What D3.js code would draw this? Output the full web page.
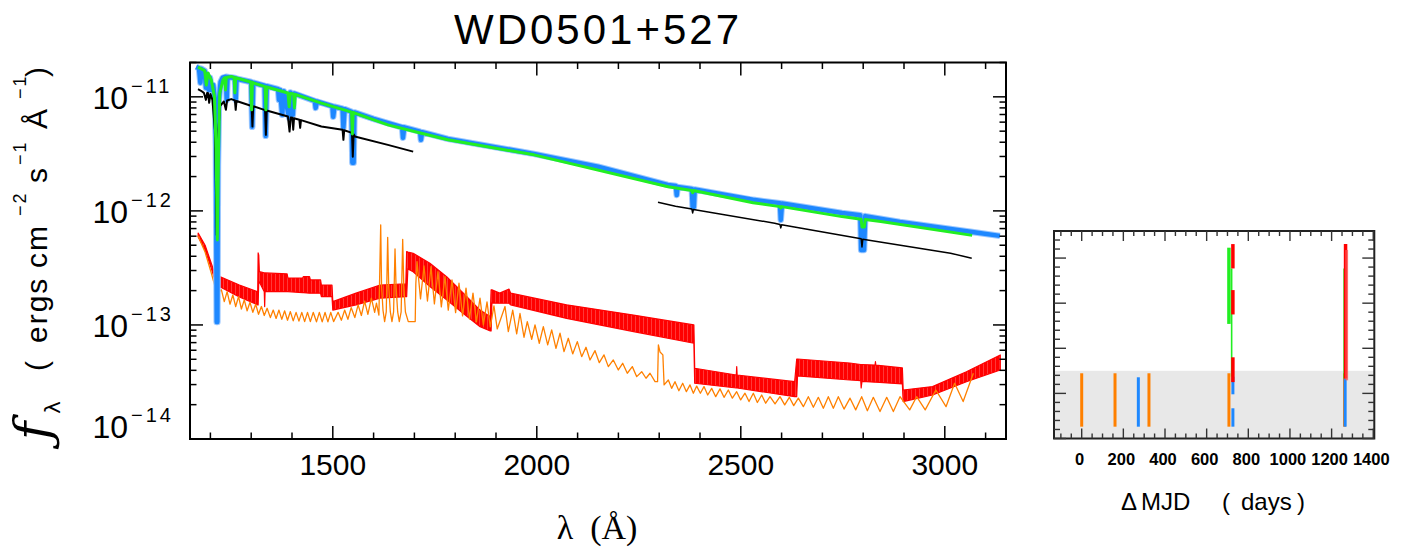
<!DOCTYPE html>
<html><head><meta charset="utf-8">
<script src="https://cdn.jsdelivr.net/npm/d3@7"></script>
<style>
html,body{margin:0;padding:0;background:#fff;}
svg text{font-family:"Liberation Sans",Arial,Helvetica,sans-serif;fill:#000;}
</style></head><body>
<svg id="chart" width="1415" height="550"></svg>
<script>
// ---------------- DATA ----------------
const titleText = "WD0501+527";
const wavelengthDomain = [1150, 3150];
const fluxDomain = [1e-14, 2e-11];
const xMajorTicks = [1500, 2000, 2500, 3000];
const xMinorTicks = [1200,1300,1400,1600,1700,1800,1900,2100,2200,2300,2400,2600,2700,2800,2900,3100];
const yMajorTicks = [1e-14, 1e-13, 1e-12, 1e-11];
const yMajorExponents = ["−14", "−13", "−12", "−11"];

// blue observed spectrum [wavelength (Å), flux]
const blueSpectrum = [[1165,1.83e-11],[1172,1.78e-11],[1175.5,1.33e-11],[1178,1.76e-11],[1186,1.69e-11],[1189,1.20e-11],[1192,1.56e-11],[1196,1.15e-11],[1199,1.47e-11],[1203,1.15e-11],[1207,1.27e-11],[1211,9.4e-12],[1213.5,3.7e-12],[1215.5,1.06e-13],[1217,1.06e-13],[1218.5,2.5e-12],[1221,9.4e-12],[1225,1.35e-11],[1230,1.47e-11],[1238,1.50e-11],[1240,9.4e-12],[1242,1.49e-11],[1260,1.46e-11],[1262,9.4e-12],[1264,1.44e-11],[1300,1.35e-11],[1302.5,5.46e-12],[1305,1.33e-11],[1333,1.25e-11],[1335.5,4.55e-12],[1338,1.24e-11],[1366,1.17e-11],[1368,9.4e-12],[1371,1.15e-11],[1376,6.95e-12],[1380,1.12e-11],[1393,6.54e-12],[1396,1.09e-11],[1402,6.95e-12],[1405,1.07e-11],[1456,9.2e-12],[1458,8.0e-12],[1461,9.1e-12],[1499,8.27e-12],[1501,6.68e-12],[1504,8.2e-12],[1524,7.89e-12],[1526,5.35e-12],[1529,7.8e-12],[1546,7.4e-12],[1548,2.64e-12],[1551,2.64e-12],[1553,7.3e-12],[1600,6.4e-12],[1670,5.41e-12],[1672,4.37e-12],[1675,5.4e-12],[1714,4.95e-12],[1716,4.2e-12],[1719,4.9e-12],[1782,4.28e-12],[1993,3.16e-12],[2150,2.44e-12],[2321,1.69e-12],[2341,1.65e-12],[2343,1.38e-12],[2345,1.62e-12],[2380,1.56e-12],[2382,1.08e-12],[2385,1.08e-12],[2387,1.54e-12],[2530,1.25e-12],[2596,1.17e-12],[2598,8.34e-13],[2601,1.16e-12],[2748,9.6e-13],[2793,9.15e-13],[2795,4.55e-13],[2802,4.55e-13],[2805,9.0e-13],[2890,8.0e-13],[3067,6.54e-13],[3135,6.04e-13]];

// green model spectrum
const greenSpectrum = [[1169.6,1.82e-11],[1186,1.70e-11],[1190,1.27e-11],[1194,1.62e-11],[1202,1.41e-11],[1210,1.0e-11],[1214,3.43e-12],[1217,5.57e-13],[1220,3.43e-12],[1223,1.084e-11],[1231,1.41e-11],[1235,1.47e-11],[1237,1.15e-11],[1239,1.48e-11],[1251,1.51e-11],[1258,1.48e-11],[1260,1.084e-11],[1262,1.47e-11],[1299,1.35e-11],[1301,7.69e-12],[1303,1.34e-11],[1307,1.32e-11],[1334,1.23e-11],[1336,7.69e-12],[1338,1.22e-11],[1390,1.08e-11],[1393,8.17e-12],[1396,1.07e-11],[1404,1.06e-11],[1406,8.0e-12],[1408,1.05e-11],[1472,8.80e-12],[1546,7.34e-12],[1548,4.73e-12],[1550,7.3e-12],[1554,7.19e-12],[1635,5.68e-12],[1717,4.80e-12],[1782,4.20e-12],[1993,3.10e-12],[2322,1.63e-12],[2380,1.51e-12],[2382,1.44e-12],[2384,1.51e-12],[2530,1.18e-12],[2596,1.09e-12],[2598,1.06e-12],[2600,1.09e-12],[2748,8.91e-13],[2795,8.46e-13],[2797,7.24e-13],[2803,7.24e-13],[2805,8.4e-13],[2843,8.06e-13],[3067,6.10e-13]];

// black spectrum, two segments
const blackSpectrumFUV = [[1169.6,1.168e-11],[1177,1.13e-11],[1184,1.084e-11],[1189,9.4e-12],[1192,1.08e-11],[1194,1.078e-11],[1197,8.86e-12],[1200,1.06e-11],[1205,9.4e-12],[1211,5.14e-12],[1215.5,6.16e-13],[1219.6,5.14e-12],[1224,8.34e-12],[1233,9.1e-12],[1238,7.69e-12],[1241,9.3e-12],[1251,9.55e-12],[1260,9.3e-12],[1262,7.69e-12],[1264,9.2e-12],[1301,8.3e-12],[1303,5.49e-12],[1305,8.25e-12],[1307,8.22e-12],[1334,7.65e-12],[1336,4.64e-12],[1338,7.6e-12],[1390,6.72e-12],[1394,4.96e-12],[1397,6.6e-12],[1401,6.55e-12],[1403,5.14e-12],[1405,6.5e-12],[1418,6.3e-12],[1420,5.35e-12],[1422,6.25e-12],[1472,5.49e-12],[1524,5.14e-12],[1526,4.20e-12],[1528,5.1e-12],[1547,4.83e-12],[1549,2.98e-12],[1551,4.7e-12],[1554,4.49e-12],[1635,3.79e-12],[1697,3.31e-12]];
const blackSpectrumNUV = [[2297,1.19e-12],[2340,1.10e-12],[2380,1.04e-12],[2382,9.6e-13],[2384,1.03e-12],[2583,7.80e-13],[2596,7.6e-13],[2598,7.09e-13],[2600,7.55e-13],[2795,5.7e-13],[2797,4.83e-13],[2799,5.65e-13],[3014,4.26e-13],[3066,3.84e-13]];

// red spectrum envelope [wavelength, upper flux, lower flux]
const redBand = [[1170,6.4e-13,5.9e-13],[1187,5.0e-13,4.55e-13],[1201,3.57e-13,3.23e-13],[1211,2.80e-13,2.48e-13],[1214.5,2.48e-13,2.3e-13],[1215.5,1.9e-13,1.04e-13],[1217,2.6e-13,1.04e-13],[1218.5,2.65e-13,2.16e-13],[1223,2.65e-13,2.16e-13],[1271,2.24e-13,1.76e-13],[1316,1.95e-13,1.50e-13],[1317,4.28e-13,1.50e-13],[1318.5,4.1e-13,2.4e-13],[1320,2.93e-13,2.38e-13],[1332,2.86e-13,1.96e-13],[1333,2.86e-13,1.45e-13],[1334,2.86e-13,1.96e-13],[1388,2.80e-13,1.96e-13],[1390,2.58e-13,1.96e-13],[1426,2.58e-13,1.92e-13],[1428,2.65e-13,1.92e-13],[1443,2.65e-13,1.90e-13],[1445,2.48e-13,1.90e-13],[1470,2.48e-13,1.90e-13],[1472,2.24e-13,1.77e-13],[1498,2.24e-13,1.77e-13],[1500,1.60e-13,1.35e-13],[1557,1.90e-13,1.50e-13],[1616,2.24e-13,1.72e-13],[1679,2.29e-13,1.77e-13],[1681,4.40e-13,1.77e-13],[1684,4.35e-13,3.10e-13],[1697,4.25e-13,2.93e-13],[1738,3.48e-13,2.17e-13],[1779,2.65e-13,1.66e-13],[1820,1.90e-13,1.26e-13],[1861,1.35e-13,9.66e-14],[1886,1.18e-13,8.86e-14],[1888,2.03e-13,8.86e-14],[1890,2.03e-13,1.56e-13],[1909,1.90e-13,1.55e-13],[1932,2.06e-13,1.55e-13],[1936,1.90e-13,1.50e-13],[2073,1.50e-13,1.14e-13],[2237,1.22e-13,8.74e-14],[2385,1.00e-13,6.91e-14],[2387,4.17e-14,3.08e-14],[2489,3.64e-14,2.80e-14],[2490,4.31e-14,2.80e-14],[2491,3.64e-14,2.80e-14],[2632,3.18e-14,2.35e-14],[2637,5.03e-14,2.35e-14],[2639,5.03e-14,3.57e-14],[2767,4.64e-14,3.29e-14],[2794,4.50e-14,3.25e-14],[2795,4.50e-14,2.80e-14],[2797,4.50e-14,3.20e-14],[2829,4.45e-14,3.15e-14],[2830,4.76e-14,3.15e-14],[2831,4.45e-14,3.15e-14],[2896,4.20e-14,3.04e-14],[2898,2.69e-14,2.13e-14],[2970,2.88e-14,2.43e-14],[3053,3.89e-14,3.18e-14],[3136,5.46e-14,4.03e-14]];

// orange model spectrum
const orangeSpectrum = [[1169.6,6.04e-13],[1186.8,4.37e-13],[1201.5,2.91e-13],[1208.8,2.34e-13],[1215,1.95e-13],[1218.6,2.12e-13],[1220,1.95e-13],
[1227,2.03e-13],[1234,1.60e-13],[1241,1.96e-13],[1248,1.52e-13],[1255,1.83e-13],[1262,1.45e-13],[1269,1.77e-13],[1276,1.38e-13],[1283,1.66e-13],[1290,1.33e-13],[1297,1.58e-13],[1304,1.29e-13],[1311,1.52e-13],[1318,1.24e-13],[1325,1.45e-13],[1332,1.21e-13],[1339,1.40e-13],[1347,1.16e-13],[1354,1.35e-13],[1361,1.14e-13],[1368,1.35e-13],[1375,1.12e-13],[1382,1.33e-13],[1389,1.10e-13],[1396,1.31e-13],[1403,1.085e-13],[1410,1.29e-13],[1417,1.08e-13],[1424,1.29e-13],[1431,1.07e-13],[1438,1.29e-13],[1445,1.07e-13],[1452,1.29e-13],[1460,1.065e-13],[1467,1.29e-13],[1474,1.065e-13],[1481,1.29e-13],[1488,1.065e-13],[1495,1.29e-13],[1502,1.07e-13],
[1513,1.29e-13],[1521,1.10e-13],[1529,1.35e-13],[1537,1.12e-13],[1545,1.42e-13],[1554,1.16e-13],[1562,1.50e-13],[1570,1.21e-13],[1578,1.62e-13],[1586,1.24e-13],[1594.5,1.72e-13],[1602.6,1.29e-13],[1607,1.55e-13],[1613,1.22e-13],
[1617.4,7.54e-13],[1619.5,2.2e-13],[1623,1.35e-13],[1627,1.07e-13],[1631,1.3e-13],[1634.5,5.86e-13],[1637,2.2e-13],[1641,1.3e-13],[1645,1.07e-13],[1649,1.3e-13],[1652.5,4.64e-13],[1655,2.2e-13],[1659,1.3e-13],[1663,1.07e-13],[1667.5,1.3e-13],[1671.3,5.63e-13],[1674,2.2e-13],[1678,1.3e-13],[1685,1.07e-13],[1702,1.07e-13],
[1703.5,2.3e-13],[1706.4,3.59e-13],[1715,1.69e-13],[1723.5,3.29e-13],[1732,1.62e-13],[1740.7,3.25e-13],[1749,1.53e-13],[1757.8,2.93e-13],[1766,1.44e-13],[1775,2.65e-13],[1783,1.35e-13],[1792.2,2.48e-13],[1801,1.28e-13],[1809.3,2.32e-13],[1818,1.20e-13],[1826.5,2.10e-13],[1835,1.13e-13],[1843.6,1.90e-13],[1852,1.065e-13],[1860.8,1.72e-13],[1869,1.0e-13],[1878,1.59e-13],[1886,9.6e-14],[1895,1.47e-13],[1903,9.22e-14],
[1922.1,1.45e-13],[1930.2,8.74e-14],[1941,1.35e-13],[1950.7,8.34e-14],[1958.8,1.26e-13],[1968.6,7.80e-14],[1976.7,1.07e-13],[1987.5,7.49e-14],[1995.6,1.0e-13],[2006.1,6.91e-14],[2016,9.66e-14],[2026.7,6.68e-14],[2036.5,9.04e-14],[2047,6.24e-14],[2056.9,8.46e-14],[2066.7,5.83e-14],[2077.2,7.64e-14],[2088,5.57e-14],[2099.3,7.14e-14],[2110,5.27e-14],[2120.6,6.37e-14],[2130.4,4.93e-14],[2142.7,5.95e-14],[2153.2,4.67e-14],[2164.7,5.46e-14],[2175.3,4.31e-14],[2187.5,4.93e-14],[2199.8,4.03e-14],[2210.5,4.61e-14],[2221.8,3.77e-14],[2234.1,4.31e-14],[2244.9,3.52e-14],[2257.1,3.89e-14],[2267.7,3.41e-14],[2277.5,3.77e-14],[2289.8,3.18e-14],
[2296,3.18e-14],[2298,6.68e-14],[2302,5.80e-14],[2309,5.46e-14],[2312,2.98e-14],
[2322.4,3.29e-14],[2330.5,2.78e-14],[2338.7,3.18e-14],[2348.2,2.65e-14],[2357.6,3.08e-14],[2366.6,2.60e-14],[2375.5,2.98e-14],[2383.7,2.52e-14],[2391.9,2.91e-14],[2400.9,2.52e-14],[2409.8,2.88e-14],[2418.9,2.43e-14],[2428.6,2.78e-14],[2438.5,2.35e-14],[2449,2.75e-14],[2458.9,2.32e-14],[2469.4,2.69e-14],[2479.3,2.28e-14],[2489.9,2.60e-14],[2499.7,2.20e-14],[2510.3,2.52e-14],[2520.2,2.13e-14],[2530.7,2.52e-14],[2540.6,2.09e-14],[2551.2,2.43e-14],[2561,2.06e-14],[2571.6,2.35e-14],[2583.9,2.03e-14],[2596.1,2.35e-14],[2607.6,1.99e-14],[2618.9,2.32e-14],[2629.7,1.96e-14],[2641,2.28e-14],[2653.3,1.92e-14],[2665.5,2.35e-14],[2677.8,1.90e-14],[2690,2.32e-14],[2702.3,1.86e-14],[2714.5,2.35e-14],[2726.8,1.86e-14],[2739,2.35e-14],[2753,1.83e-14],[2767.7,2.28e-14],[2781.6,1.80e-14],[2796.3,2.35e-14],[2810.2,1.77e-14],[2824.8,2.32e-14],[2841.2,1.74e-14],[2857.6,2.32e-14],[2873.9,1.74e-14],[2890.2,2.35e-14],
[2914,1.80e-14],[2931,2.35e-14],[2952,1.80e-14],[2978,2.69e-14],[3003,1.92e-14],[3024,3.08e-14],[3045,2.13e-14],[3070,3.77e-14]];

// side panel: observation epochs (ΔMJD, days) and coverage bars
const dayDomain = [-133, 1405];
const dayMajorTicks = [0, 200, 400, 600, 800, 1000, 1200, 1400];
const coverDomain = [0, 4.6];
const greyBand = [0, 1.5];
const barSeries = ["orange","orange","blue","orange","orange","green","greenThin","blue","blue","red","red","red","orange","greenThin","blue","red","redLight"];
const barDays   = [0, 160, 272, 323, 707, 707, 720, 726, 726, 726, 726, 726, 1262, 1260, 1265, 1267, 1272];
const barLow    = [0.262, 0.262, 0.262, 0.262, 0.262, 2.54, 1.37, 0.98, 0.262, 3.77, 2.75, 1.25, 0.262, 1.33, 0.262, 1.33, 1.29];
const barHigh   = [1.446, 1.446, 1.357, 1.446, 1.446, 4.23, 3.77, 1.37, 0.67, 4.31, 3.29, 1.80, 1.446, 3.77, 1.33, 4.31, 4.18];

// ---------------- DRAWING ----------------
const svg = d3.select("#chart");
const P = {left:190, right:1006, top:62.5, bottom:439};
const x = d3.scaleLinear().domain(wavelengthDomain).range([P.left, P.right]);
const y = d3.scaleLog().domain(fluxDomain).range([P.bottom, P.top]);

const defs = svg.append("defs");
defs.append("clipPath").attr("id","plotClip").append("rect")
  .attr("x",P.left).attr("y",P.top).attr("width",P.right-P.left).attr("height",P.bottom-P.top);
const pat = defs.append("pattern").attr("id","redStripe").attr("width",4).attr("height",6).attr("patternUnits","userSpaceOnUse");
pat.append("rect").attr("width",4).attr("height",6).attr("fill","#ff3838");
pat.append("rect").attr("width",3).attr("height",6).attr("fill","#ff0000");

const colors = {blue:"#1e88ff", green:"#22ee22", black:"#000", red:"#ff0000", orange:"#ff8000"};

// title
svg.append("text").attr("x",598).attr("y",44).attr("text-anchor","middle")
  .attr("font-size",42).attr("letter-spacing",3).text(titleText);

const g = svg.append("g").attr("clip-path","url(#plotClip)");
const line = d3.line().x(d=>x(d[0])).y(d=>y(d[1]));
const area = d3.area().x(d=>x(d[0])).y0(d=>y(d[2])).y1(d=>y(d[1]));

g.append("path").datum(redBand).attr("d",area)
  .attr("fill","url(#redStripe)").attr("stroke",colors.red).attr("stroke-width",1.2).attr("stroke-linejoin","round");
g.append("path").datum(orangeSpectrum).attr("d",line)
  .attr("fill","none").attr("stroke",colors.orange).attr("stroke-width",1.3).attr("stroke-linejoin","round");
g.append("path").datum(blueSpectrum).attr("d",line)
  .attr("fill","none").attr("stroke","#9cc8ff").attr("stroke-width",6.5).attr("stroke-linejoin","round");
g.append("path").datum(blueSpectrum).attr("d",line)
  .attr("fill","none").attr("stroke",colors.blue).attr("stroke-width",4.5).attr("stroke-linejoin","round");
[blackSpectrumFUV, blackSpectrumNUV].forEach((s,i)=>{
  g.append("path").datum(s).attr("d",line)
    .attr("fill","none").attr("stroke",colors.black).attr("stroke-width",i===0?2:1.5).attr("stroke-linejoin","round");
});
g.append("path").datum(greenSpectrum).attr("d",line)
  .attr("fill","none").attr("stroke",colors.green).attr("stroke-width",3).attr("stroke-linejoin","round");

// frame
svg.append("rect").attr("x",P.left).attr("y",P.top).attr("width",P.right-P.left).attr("height",P.bottom-P.top)
  .attr("fill","none").attr("stroke","#000").attr("stroke-width",2);

// ticks
const tk = svg.append("g").attr("stroke","#000").attr("stroke-width",1.5);
function xTick(v,len){
  tk.append("line").attr("x1",x(v)).attr("x2",x(v)).attr("y1",P.bottom).attr("y2",P.bottom-len);
  tk.append("line").attr("x1",x(v)).attr("x2",x(v)).attr("y1",P.top).attr("y2",P.top+len);
}
xMajorTicks.forEach(v=>xTick(v,13));
xMinorTicks.forEach(v=>xTick(v,6.5));
function yTick(v,len){
  tk.append("line").attr("x1",P.left).attr("x2",P.left+len).attr("y1",y(v)).attr("y2",y(v));
  tk.append("line").attr("x1",P.right).attr("x2",P.right-len).attr("y1",y(v)).attr("y2",y(v));
}
yMajorTicks.forEach(v=>yTick(v,13));
yMajorTicks.forEach(v=>{ for(let m=2;m<=9;m++){ const t=m*v; if(t<=fluxDomain[1]) yTick(t,6.5);} });

// x tick labels
xMajorTicks.forEach(v=>{
  svg.append("text").attr("x",x(v)).attr("y",475).attr("text-anchor","middle").attr("font-size",30).text(v);
});
// y tick labels
yMajorTicks.forEach((v,i)=>{
  const yy = Math.min(y(v), P.bottom-13);
  svg.append("text").attr("x",128).attr("y",yy+12).attr("text-anchor","end").attr("font-size",32).text("10");
  svg.append("text").attr("x",131).attr("y",yy-4).attr("font-size",20).attr("letter-spacing",3).text(yMajorExponents[i]);
});

// x axis title
svg.append("text").attr("x",597).attr("y",539).attr("text-anchor","middle")
  .style("font-family","'Liberation Serif','DejaVu Serif',serif")
  .attr("font-size",34).attr("xml:space","preserve").text("λ  (Å)");

// y axis title (rotated pieces)
function rot(txt, px, py, size, extra){
  const t = svg.append("text").attr("transform",`translate(${px},${py}) rotate(-90)`).attr("font-size",size).text(txt);
  if(extra) extra(t);
  return t;
}
rot("ƒ", 50, 440, 50, t=>t.style("font-family","'DejaVu Serif',serif").style("font-style","italic"));
rot("λ", 60, 414, 22, t=>t.style("font-family","'DejaVu Sans',sans-serif"));
rot("(", 47, 371, 30);
rot("ergs", 47, 343, 30, t=>t.attr("letter-spacing",2));
rot("cm", 47, 268, 30, t=>t.attr("letter-spacing",2));
rot("−2", 26, 216, 18, t=>t.attr("letter-spacing",2));
rot("s", 47, 183, 30);
rot("−1", 26, 165, 18, t=>t.attr("letter-spacing",2));
rot("Å", 47, 129, 30);
rot("−1", 26, 99, 18, t=>t.attr("letter-spacing",2));
rot(")", 47, 77, 30);

// ---------------- SIDE PANEL ----------------
const S = {left:1054, right:1374.3, top:231, bottom:438.5};
const sx = d3.scaleLinear().domain(dayDomain).range([S.left, S.right]);
const sy = d3.scaleLinear().domain(coverDomain).range([S.bottom, S.top]);
svg.append("rect").attr("x",S.left).attr("y",sy(greyBand[1])).attr("width",S.right-S.left)
  .attr("height",sy(greyBand[0])-sy(greyBand[1])).attr("fill","#e8e8e8");

const barStyle = {
  orange:{c:"#ff8000",w:3,o:1}, blue:{c:"#1e88ff",w:3,o:1}, green:{c:"#22ee22",w:3.5,o:1},
  greenThin:{c:"#22ee22",w:1.6,o:1}, red:{c:"#ff0000",w:3.5,o:1}, redLight:{c:"#ff5050",w:3,o:0.7}
};
const sg = svg.append("g");
barDays.forEach((d,i)=>{
  const st = barStyle[barSeries[i]];
  sg.append("line").attr("x1",sx(d)).attr("x2",sx(d)).attr("y1",sy(barLow[i])).attr("y2",sy(barHigh[i]))
    .attr("stroke",st.c).attr("stroke-width",st.w).attr("stroke-opacity",st.o);
});

svg.append("rect").attr("x",S.left).attr("y",S.top).attr("width",S.right-S.left).attr("height",S.bottom-S.top)
  .attr("fill","none").attr("stroke","#222").attr("stroke-width",2);
const stk = svg.append("g").attr("stroke","#333").attr("stroke-width",1.4);
for(let d=-100; d<=1400; d+=50){
  const major = dayMajorTicks.includes(d); const len = major?10:5;
  stk.append("line").attr("x1",sx(d)).attr("x2",sx(d)).attr("y1",S.bottom).attr("y2",S.bottom-len);
  stk.append("line").attr("x1",sx(d)).attr("x2",sx(d)).attr("y1",S.top).attr("y2",S.top+len);
}
for(let k=0; k<=23; k++){
  const v = k*0.2; if(v>coverDomain[1]) break;
  const major = (k%5===0); const len = major?12:6;
  stk.append("line").attr("x1",S.left).attr("x2",S.left+len).attr("y1",sy(v)).attr("y2",sy(v));
  stk.append("line").attr("x1",S.right).attr("x2",S.right-len).attr("y1",sy(v)).attr("y2",sy(v));
}
dayMajorTicks.forEach(v=>{
  svg.append("text").attr("x",sx(v)-2).attr("y",465).attr("text-anchor","middle")
    .attr("font-size",16.5).attr("font-weight","bold").text(v);
});
const sTitle = svg.append("text").attr("y",510).attr("font-size",24);
sTitle.append("tspan").attr("x",1121).text("Δ");
sTitle.append("tspan").attr("x",1141).text("MJD");
sTitle.append("tspan").attr("x",1222).text("(");
sTitle.append("tspan").attr("x",1241).text("days");
sTitle.append("tspan").attr("x",1297).text(")");
</script>
</body></html>
